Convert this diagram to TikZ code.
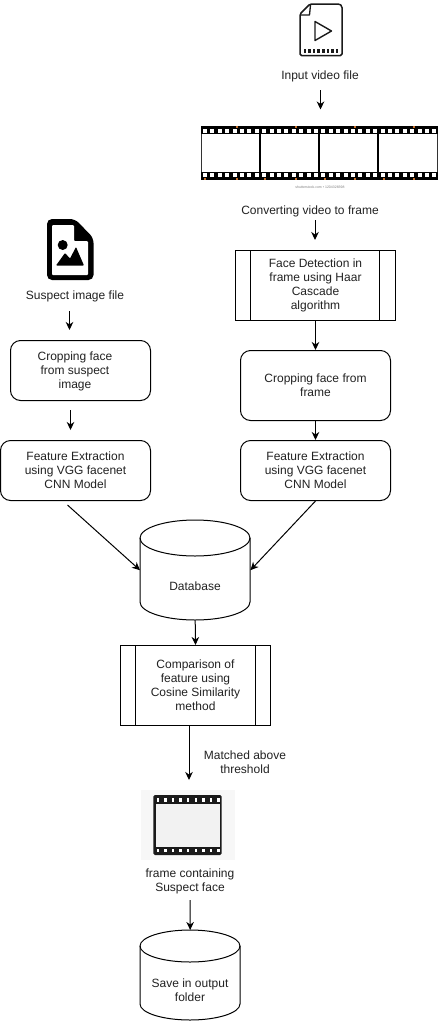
\documentclass[tikz,border=0pt]{standalone}
\usepackage{fontspec}
\setmainfont{Liberation Sans}
\usetikzlibrary{arrows.meta}
\definecolor{ink}{HTML}{1A1A1A}
\definecolor{txt}{HTML}{222222}
\definecolor{filmmark}{HTML}{C8702A}
\tikzset{
  x=1pt,y=-1pt,
  every node/.style={font=\fontsize{12pt}{14pt}\selectfont,text=txt,align=center,inner sep=0pt},
  boxline/.style={draw=black,line width=1pt},
  roundbox/.style={boxline,rounded corners=10pt,anchor=north west},
  procbox/.style={boxline,anchor=north west},
  flow/.style={draw=black,line width=1pt,-{Stealth[length=8pt,width=7.5pt,inset=2.5pt]}},
  dbbody/.style={boxline,fill=white},
  cyl/.style={anchor=north west},
}
\begin{document}
\begin{tikzpicture}
\useasboundingbox (0,0) rectangle (442,1021);
\fill[white] (0,0) rectangle (442,1021);

% --- video file icon
\draw[ink,line width=1.5pt,line join=round,rounded corners=1.5pt]
  (310,4) -- (339.5,4) -- (342,6) -- (342,55.5) -- (300,55.5) -- (300,14) -- cycle;
\draw[ink,line width=1.3pt,line join=round] (300.5,15) -- (309.5,15) -- (310.5,5);
\draw[ink,line width=1.4pt,line join=round] (315,21.5) -- (331.5,31) -- (315,40.5) -- cycle;
\foreach \i in {0,...,7} \fill[ink] (303.5+\i*4.6,49) rectangle ++(2.6,4);

% --- film strip
\fill[black] (201,126) rectangle (438,134);
\fill[black] (201,171.7) rectangle (438,179.7);
\foreach \i in {0,...,31} {
  \fill[white] (203+\i*7.4,128.6) rectangle ++(4,4.2);
  \fill[white] (203+\i*7.4,172.6) rectangle ++(4,4.4);
}
\draw[black!80,line width=1pt] (201.7,134) -- (201.7,172) (437.3,134) -- (437.3,172);
\foreach \x in {260,319,378} \fill[black] (\x-1.2,134) rectangle (\x+1.2,172);
\foreach \x in {231,290,350,408} \fill[white] (\x+3.5,180.2) arc[start angle=0,end angle=180,radius=3.5] -- cycle;
\foreach \x in {237,296,355,414} \fill[filmmark] (\x-.6,126) rectangle ++(1.2,1.5);
\foreach \x in {205,237,265,296,325,355,384,414} \fill[filmmark] (\x-.6,178.2) rectangle ++(1.2,1.5);
\node[font=\fontsize{3.5pt}{4pt}\selectfont,text=gray] (stock) at (320,187.5) {shutterstock.com • 1204328398};

% --- image file icon
\fill[black,rounded corners=5pt] (47,219) -- (75,219) -- (93.5,238) -- (93.5,280) -- (47,280) -- cycle;
\fill[white,rounded corners=1pt] (52,225) -- (74,225) -- (74,241) -- (88,241) -- (88,275) -- (52,275) -- cycle;
\fill[black] (62.7,245) circle[radius=5];
\fill[black,rounded corners=.8pt] (56,265.5) -- (65,253) -- (70,258.5) -- (76,247) -- (84,265.5) -- cycle;

% --- frame icon
\fill[black!3] (140.7,790) rectangle (235,859.5);
\fill[ink,rounded corners=1.5pt] (153.3,795) rectangle (221.7,855);
\fill[white!95!black] (156,804) rectangle (220,847);
\foreach \i in {0,...,8} {
  \fill[white] (156.5+\i*7.6,798) rectangle ++(2.5,3.6);
  \fill[white] (156.5+\i*7.6,848.5) rectangle ++(2.5,3.6);
}

% --- text labels
\node (inputlabel) at (320,76) {Input video file};
\node (convlabel) at (310,211) {Converting video to frame};
\node (suspectlabel) at (75,296) {Suspect image file};
\node (framelabel) at (190,881) {frame containing\\Suspect face};
\node (matchlabel) at (245,762) {Matched above\\threshold};

% --- boxes
\node[roundbox,minimum width=140pt,minimum height=60pt] (cropL) at (10,340) {};
\node (cropLtext) at (75,371) {Cropping face\\from suspect\\image};
\node[roundbox,minimum width=150pt,minimum height=60pt] (featL) at (0,440) {Feature Extraction\\using VGG facenet\\CNN Model};
\node[procbox,minimum width=160pt,minimum height=70pt] (detect) at (235,250) {Face Detection in\\frame using Haar\\Cascade\\algorithm};
\draw[boxline] (250.5,250) -- (250.5,320) (379,250) -- (379,320);
\node[roundbox,minimum width=150pt,minimum height=70pt] (cropR) at (240,350) {Cropping face from\\frame};
\node[roundbox,minimum width=150pt,minimum height=60pt] (featR) at (240,440) {Feature Extraction\\using VGG facenet\\CNN Model};
\node[procbox,minimum width=150pt,minimum height=80pt] (compare) at (120,645) {Comparison of\\feature using\\Cosine Similarity\\method};
\draw[boxline] (135,645) -- (135,725) (255,645) -- (255,725);

% --- cylinders
\draw[dbbody] (140,538)
  .. controls (140,528) and (165,520) .. (195,520)
  .. controls (225,520) and (250,528) .. (250,538)
  -- (250,602)
  .. controls (250,612) and (225,620) .. (195,620)
  .. controls (165,620) and (140,612) .. (140,602) -- cycle;
\draw[boxline] (140,538) .. controls (140,548) and (165,556) .. (195,556)
  .. controls (225,556) and (250,548) .. (250,538);
\node[cyl,minimum width=110pt,minimum height=100pt] (db) at (140,520) {};
\node (dbtext) at (195,586) {Database};

\draw[dbbody] (140,946)
  .. controls (140,937) and (163,930) .. (190,930)
  .. controls (217,930) and (240,937) .. (240,946)
  -- (240,1004)
  .. controls (240,1013) and (217,1020) .. (190,1020)
  .. controls (163,1020) and (140,1013) .. (140,1004) -- cycle;
\draw[boxline] (140,946) .. controls (140,955) and (163,962) .. (190,962)
  .. controls (217,962) and (240,955) .. (240,946);
\node[cyl,minimum width=100pt,minimum height=90pt] (save) at (140,930) {};
\node (savetext) at (190,990.5) {Save in output\\folder};

% --- free arrow ends
\coordinate (a1s) at (320.5,90); \coordinate (a1e) at (320.5,109.5);
\coordinate (a2s) at (315,220); \coordinate (a2e) at (315,240);
\coordinate (a3s) at (69.5,311); \coordinate (a3e) at (69.5,330);
\coordinate (a4s) at (70.5,410); \coordinate (a4e) at (70.5,430);
\coordinate (featLb) at (67.5,505);
\coordinate (cmpB) at (189,725); \coordinate (frmT) at (189,780);
\coordinate (frmB) at (190,900);

\draw[flow] (a1s) -- (a1e);
\draw[flow] (a2s) -- (a2e);
\draw[flow] (a3s) -- (a3e);
\draw[flow] (a4s) -- (a4e);
\draw[flow] (detect.south) -- (cropR.north);
\draw[flow] (cropR.south) -- (featR.north);
\draw[flow] (featLb) -- (db.west);
\draw[flow] (featR.south) -- (db.east);
\draw[flow] (db.south) -- (compare.north);
\draw[flow] (cmpB) -- (frmT);
\draw[flow] (frmB) -- (save.north);
\end{tikzpicture}
\end{document}
